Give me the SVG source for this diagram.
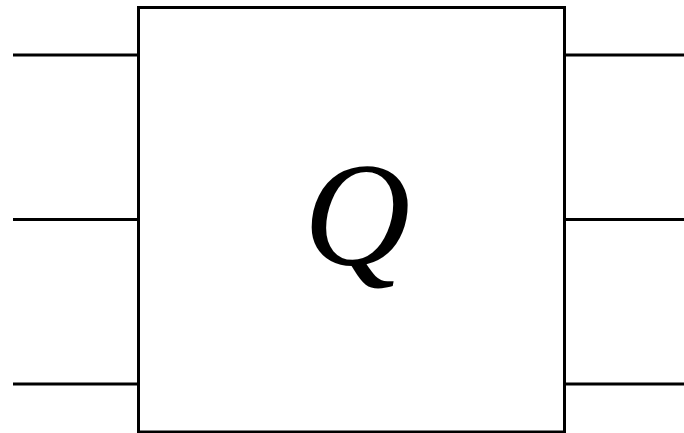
<svg xmlns="http://www.w3.org/2000/svg" width="684" height="433" viewBox="0 0 684 433">
<style>
.w{stroke:#000;stroke-width:3;fill:none}
.lbl{font-family:"Liberation Serif","DejaVu Serif",serif;font-style:italic;font-size:148px;fill:#000}
</style>
<rect width="684" height="433" fill="#fff"/>
<g id="connectors">
<line class="w" x1="13" y1="55" x2="138.5" y2="55"/>
<line class="w" x1="13" y1="219.5" x2="138.5" y2="219.5"/>
<line class="w" x1="13" y1="384" x2="138.5" y2="384"/>
<line class="w" x1="564.5" y1="55" x2="684" y2="55"/>
<line class="w" x1="564.5" y1="219.5" x2="684" y2="219.5"/>
<line class="w" x1="564.5" y1="384" x2="684" y2="384"/>
</g>
<g id="Q">
<rect class="w" x="138.5" y="7.5" width="426" height="424.5"/>
<text class="lbl" x="357" y="265" text-anchor="middle">Q</text>
</g>
</svg>
